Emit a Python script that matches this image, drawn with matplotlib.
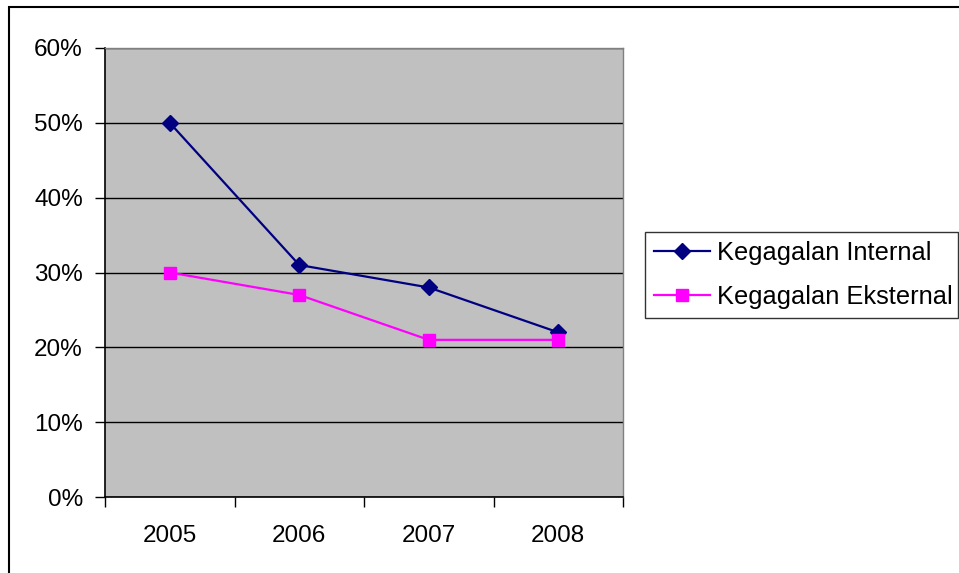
import matplotlib
matplotlib.use("Agg")
import matplotlib.pyplot as plt
from matplotlib.patches import Rectangle
from matplotlib.ticker import FixedLocator, PercentFormatter

years = ["2005", "2006", "2007", "2008"]
internal = [50, 31, 28, 22]
eksternal = [30, 27, 21, 21]
yticks = [0, 10, 20, 30, 40, 50, 60]

plt.rcParams['font.family'] = ['Liberation Sans', 'DejaVu Sans']

fig = plt.figure(figsize=(9.59, 5.73), dpi=100)
fig.patch.set_facecolor('white')

# outer chart border (left and top visible)
fig.patches.append(Rectangle((9/959, -0.1), 2.0, 1 - 7/573 + 0.1,
                             transform=fig.transFigure, fill=False,
                             edgecolor='black', linewidth=1.5))

ax = fig.add_axes([105/959, 1 - 497/573, (623-105)/959, (497-48)/573])
ax.set_facecolor('#C0C0C0')
x = list(range(len(years)))
l1, = ax.plot(x, internal, color='#000080', marker='D', markersize=8.5,
              linewidth=1.6, label='Kegagalan Internal', zorder=3)
l2, = ax.plot(x, eksternal, color='#FF00FF', marker='s', markersize=8.5,
              linewidth=1.6, label='Kegagalan Eksternal', zorder=3)

ax.set_xlim(-0.5, 3.5)
ax.set_ylim(0, 60)
ax.set_yticks(yticks)
ax.yaxis.set_major_formatter(PercentFormatter(decimals=0))
ax.yaxis.grid(True, color='black', linewidth=1.0)
ax.set_axisbelow(True)

ax.set_xticks(x)
ax.set_xticklabels(years)
ax.xaxis.set_minor_locator(FixedLocator([-0.5, 0.5, 1.5, 2.5, 3.5]))
ax.tick_params(axis='x', which='major', length=0, pad=20, labelsize=17.5)
ax.tick_params(axis='x', which='minor', length=7, width=1, color='black', direction='out')
ax.tick_params(axis='y', which='major', length=7, width=1, color='black',
               direction='out', pad=9, labelsize=17.5)

for s in ['left', 'bottom']:
    ax.spines[s].set_color('black')
    ax.spines[s].set_linewidth(1.2)
for s in ['right', 'top']:
    ax.spines[s].set_color('#808080')
    ax.spines[s].set_linewidth(1.0)

leg = fig.legend(handles=[l1, l2], loc='upper left',
                 bbox_to_anchor=(645/959, 1 - 315/573, (958-645)/959, (315-232)/573),
                 mode='expand', frameon=True, fancybox=False, fontsize=18.3,
                 handlelength=2.2, handletextpad=0.28, borderpad=0.35,
                 labelspacing=0.8, borderaxespad=0)
leg.get_frame().set_edgecolor('black')
leg.get_frame().set_linewidth(1.0)

fig.savefig('out.png', dpi=100)
